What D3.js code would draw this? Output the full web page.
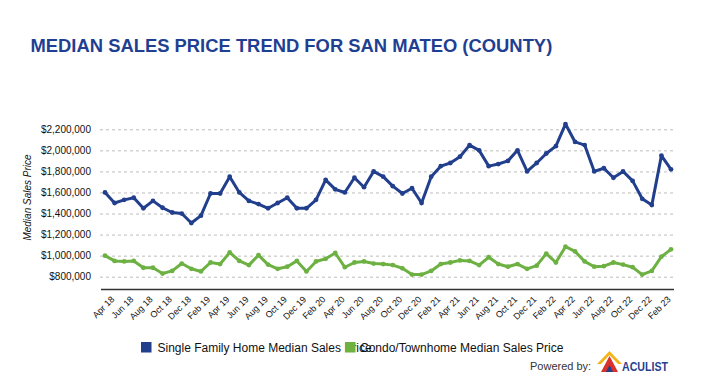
<!DOCTYPE html>
<html>
<head>
<meta charset="utf-8">
<script src="https://cdn.jsdelivr.net/npm/d3@7"></script>
<style>
  html, body { margin: 0; padding: 0; background: #fff; }
  svg { display: block; font-family: "Liberation Sans", Arial, Helvetica, sans-serif; }
</style>
</head>
<body>
<svg id="chart" width="710" height="382"></svg>
<script>
const months = ["Apr 18","May 18","Jun 18","Jul 18","Aug 18","Sep 18","Oct 18","Nov 18","Dec 18","Jan 19",
  "Feb 19","Mar 19","Apr 19","May 19","Jun 19","Jul 19","Aug 19","Sep 19","Oct 19","Nov 19",
  "Dec 19","Jan 20","Feb 20","Mar 20","Apr 20","May 20","Jun 20","Jul 20","Aug 20","Sep 20",
  "Oct 20","Nov 20","Dec 20","Jan 21","Feb 21","Mar 21","Apr 21","May 21","Jun 21","Jul 21",
  "Aug 21","Sep 21","Oct 21","Nov 21","Dec 21","Jan 22","Feb 22","Mar 22","Apr 22","May 22",
  "Jun 22","Jul 22","Aug 22","Sep 22","Oct 22","Nov 22","Dec 22","Jan 23","Feb 23","Mar 23"];

const singleFamily = [1600000,1500000,1530000,1550000,1450000,1520000,1455000,1410000,1400000,1310000,
  1380000,1590000,1590000,1750000,1600000,1520000,1490000,1450000,1500000,1550000,
  1450000,1450000,1530000,1720000,1630000,1600000,1740000,1650000,1800000,1750000,
  1660000,1590000,1640000,1500000,1750000,1850000,1880000,1940000,2050000,2000000,
  1850000,1870000,1900000,2000000,1800000,1880000,1970000,2040000,2250000,2080000,
  2050000,1800000,1830000,1740000,1800000,1710000,1540000,1480000,1950000,1820000];

const condo = [1000000,950000,945000,950000,885000,885000,830000,855000,925000,875000,
  850000,935000,920000,1030000,950000,910000,1005000,915000,875000,895000,
  950000,850000,945000,970000,1025000,890000,935000,945000,925000,920000,
  910000,880000,820000,820000,855000,920000,935000,955000,950000,910000,
  985000,920000,895000,920000,875000,905000,1020000,935000,1085000,1040000,
  945000,895000,900000,935000,915000,890000,820000,855000,990000,1060000];

const xTickLabels = ["Apr 18","Jun 18","Aug 18","Oct 18","Dec 18","Feb 19","Apr 19","Jun 19","Aug 19","Oct 19",
  "Dec 19","Feb 20","Apr 20","Jun 20","Aug 20","Oct 20","Dec 20","Feb 21","Apr 21","Jun 21",
  "Aug 21","Oct 21","Dec 21","Feb 22","Apr 22","Jun 22","Aug 22","Oct 22","Dec 22","Feb 23"];

const yTickValues = [800000,1000000,1200000,1400000,1600000,1800000,2000000,2200000];

const seriesNames = ["Single Family Home Median Sales Price", "Condo/Townhome Median Sales Price"];
const seriesColors = ["#213f8c", "#6db143"];

const svg = d3.select("#chart");

// Title
svg.append("text")
  .attr("x", 30.5).attr("y", 51.5)
  .attr("font-size", 18.4).attr("font-weight", "bold")
  .attr("fill", "#1f3f92")
  .text("MEDIAN SALES PRICE TREND FOR SAN MATEO (COUNTY)");

const x = d3.scalePoint().domain(months).range([105, 671]);
const y = d3.scaleLinear().domain([800000, 2200000]).range([276.7, 129.3]);

// Y axis with dashed gridlines
const yAxis = svg.append("g").attr("transform", "translate(100,0)")
  .call(d3.axisLeft(y).tickValues(yTickValues)
    .tickFormat(d => "$" + d3.format(",")(d))
    .tickSize(-573).tickPadding(9));
yAxis.select(".domain").remove();
yAxis.selectAll(".tick line").attr("stroke", "#bdbdbd").attr("stroke-dasharray", "3,3").attr("stroke-width", 1);
yAxis.selectAll(".tick text").attr("font-size", 10).attr("fill", "#111")
  .attr("font-family", "Liberation Sans, Arial, sans-serif");

// Y axis title
svg.append("text")
  .attr("transform", "translate(30.5,197.5) rotate(-90)")
  .attr("text-anchor", "middle")
  .attr("font-size", 10).attr("font-style", "italic").attr("fill", "#111")
  .text("Median Sales Price");

// X axis line
svg.append("line")
  .attr("x1", 101).attr("x2", 674)
  .attr("y1", y(678000)).attr("y2", y(678000))
  .attr("stroke", "#333").attr("stroke-width", 1.5);

// X axis labels
const xAxis = svg.append("g").attr("transform", "translate(0," + (y(678000) + 6) + ")")
  .call(d3.axisBottom(x).tickValues(xTickLabels).tickSize(0).tickPadding(0));
xAxis.select(".domain").remove();
xAxis.selectAll(".tick text")
  .attr("font-size", 9).attr("fill", "#111")
  .attr("font-family", "Liberation Sans, Arial, sans-serif")
  .attr("text-anchor", "end")
  .attr("dy", "0.7em")
  .attr("transform", "translate(5,0) rotate(-45)");

// Lines
const line = d3.line().x((d, i) => x(months[i])).y(d => y(d));
[singleFamily, condo].forEach((series, k) => {
  svg.append("path").datum(series)
    .attr("fill", "none").attr("stroke", seriesColors[k])
    .attr("stroke-width", 3).attr("stroke-linejoin", "round")
    .attr("d", line);
  svg.append("g").selectAll("circle").data(series).join("circle")
    .attr("cx", (d, i) => x(months[i])).attr("cy", d => y(d))
    .attr("r", 2.4).attr("fill", seriesColors[k]);
});

// Legend
const legendItems = [{sx: 141, tx: 157.5}, {sx: 345, tx: 360}];
legendItems.forEach((it, k) => {
  svg.append("rect").attr("x", it.sx).attr("y", 342).attr("width", 10.5).attr("height", 10.5)
    .attr("fill", seriesColors[k]);
  svg.append("text").attr("x", it.tx).attr("y", 352)
    .attr("font-size", 12).attr("fill", "#111").text(seriesNames[k]);
});

// Powered by
svg.append("text").attr("x", 530).attr("y", 370)
  .attr("font-size", 11).attr("fill", "#333").text("Powered by:");
const logo = svg.append("g").attr("transform", "translate(597,351)");
logo.append("path").attr("d", "M0,13 L12.5,0 L25,13 L21,13 L12.5,4 L4,13 Z").attr("fill", "#f5b31a");
logo.append("path").attr("d", "M4,21 L12.5,5 L21,21 Z").attr("fill", "#d7322b");
logo.append("path").attr("d", "M9,21 L12.5,14 L16,21 Z").attr("fill", "#233f8c");
svg.append("text").attr("x", 622).attr("y", 371)
  .attr("font-size", 13).attr("font-weight", "bold").attr("fill", "#26408f")
  .attr("textLength", 46).attr("lengthAdjust", "spacingAndGlyphs")
  .text("ACULIST");
</script>
</body>
</html>
